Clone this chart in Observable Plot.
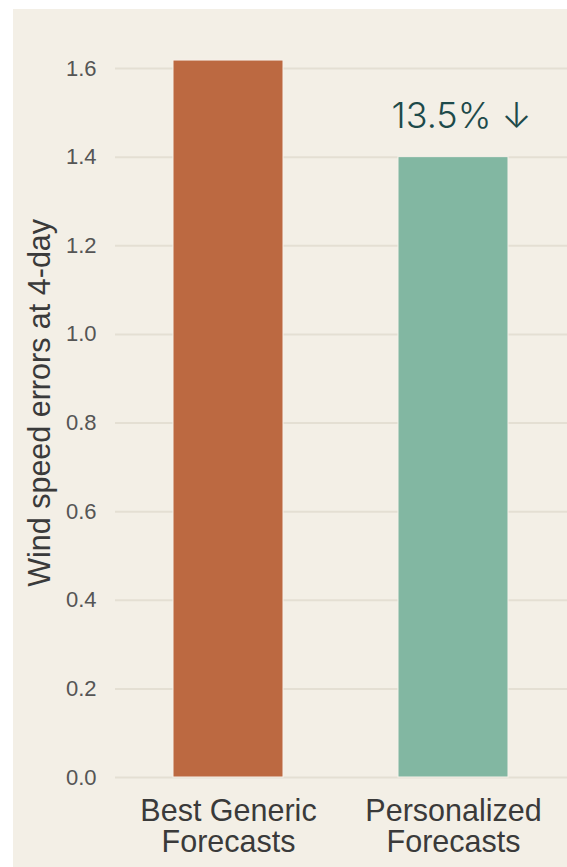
<!DOCTYPE html>
<html><head><meta charset="utf-8">
<script src="https://cdn.jsdelivr.net/npm/d3@7"></script>
<script src="https://cdn.jsdelivr.net/npm/@observablehq/plot@0.6"></script>
<style>
html,body{margin:0;padding:0;background:#ffffff;width:567px;height:867px;overflow:hidden;}
#panel{position:absolute;left:13px;top:9px;width:554px;height:858px;background:#f3efe6;}
#chart{position:absolute;left:0;top:0;}
</style></head>
<body><div id="panel"></div><div id="chart"></div>
<script>
const categories = ["Best Generic\nForecasts", "Personalized\nForecasts"];
const values = [1.618, 1.400];
const colors = ["#bc6941", "#82b7a2"];
const yTicks = [0, 0.2, 0.4, 0.6, 0.8, 1.0, 1.2, 1.4, 1.6];
const yLabel = ["Wind speed errors at 4-day"];
const annotationText = ["13.5% ↓"];
const annotationCategory = [categories[1]];
const annotationValue = [values[1]];

const data = categories.map((c, i) => ({category: c, value: values[i]}));
const notes = annotationText.map((t, i) => ({text: t, category: annotationCategory[i], value: annotationValue[i]}));

const chart = Plot.plot({
  width: 567,
  height: 867,
  marginLeft: 115,
  marginRight: 0,
  marginTop: 23.7,
  marginBottom: 90,
  style: {background: "transparent", fontFamily: "'Liberation Sans', Arial, sans-serif"},
  x: {type: "band", domain: categories, paddingInner: 0.51, paddingOuter: 0.256},
  y: {domain: [0, 1.7]},
  color: {domain: categories, range: colors},
  marks: [
    Plot.gridY(yTicks, {stroke: "#e4dfd3", strokeOpacity: 1, strokeWidth: 2}),
    Plot.axisY(yTicks, {tickSize: 0, tickPadding: 19, fontSize: 22, fill: "#555555",
      tickFormat: d3.format(".1f"), label: null}),
    Plot.text(yLabel, {text: d => d, frameAnchor: "left", rotate: -90, dx: -75, dy: 2,
      fontSize: 30.5, fill: "#3a3a3a", textAnchor: "middle", lineAnchor: "middle"}),
    Plot.barY(data, {x: "category", y: "value", fill: "category", stroke: "#f6f1ea", strokeWidth: 1}),
    Plot.axisX({tickSize: 0, tickPadding: 21, fontSize: 30.5, fill: "#3a3a3a", lineHeight: 1.02, label: null}),
    Plot.text(notes, {x: "category", y: "value", text: "text", dx: 8, dy: -41, lineAnchor: "middle",
      fontSize: 36, fill: "#1d4a4a", fontFamily: "Inter, sans-serif", fontWeight: 350})
  ]
});
document.getElementById("chart").appendChild(chart);
</script></body></html>
